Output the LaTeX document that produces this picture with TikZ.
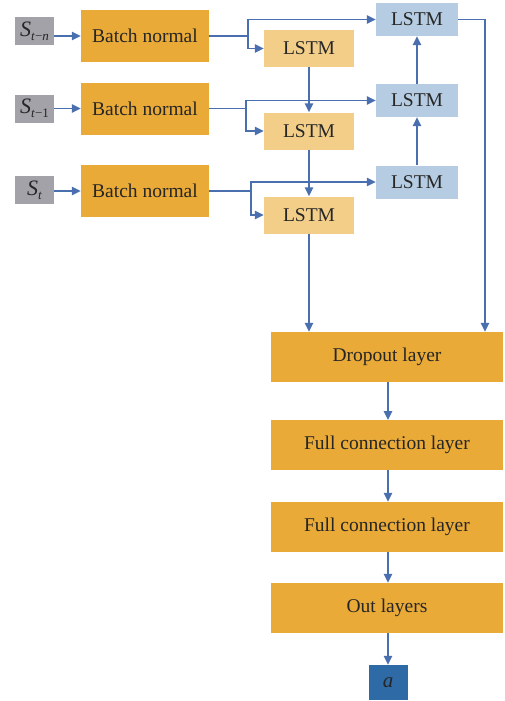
\documentclass[tikz,border=0pt]{standalone}
\usepackage{fontspec}
\setmainfont{Liberation Serif}
\usetikzlibrary{arrows.meta}
\definecolor{orng}{HTML}{E9AA38}
\definecolor{ylw}{HTML}{F3CE88}
\definecolor{lblue}{HTML}{B5CCE2}
\definecolor{gry}{HTML}{A2A2A8}
\definecolor{dblue}{HTML}{2E6AA6}
\definecolor{lnc}{HTML}{4A6FAE}
\tikzset{
  box/.style={rectangle, inner sep=0pt, font=\fontsize{19.5}{22}\selectfont, text=black!85},
  sbox/.style={box, fill=gry, minimum width=39pt, minimum height=28pt, font=\fontsize{22}{24}\selectfont},
  bnbox/.style={box, fill=orng, minimum width=128pt, minimum height=52pt},
  ybox/.style={box, fill=ylw, minimum width=90pt, minimum height=37pt},
  bbox/.style={box, fill=lblue, minimum width=82pt, minimum height=33pt},
  lbox/.style={box, fill=orng, minimum width=232pt, minimum height=50pt},
  abox/.style={box, fill=dblue, minimum width=39pt, minimum height=35pt, font=\fontsize{21}{24}\selectfont},
  ln/.style={draw=lnc, line width=1.5pt},
  arr/.style={ln, -{Triangle[length=9pt,width=8.5pt]}},
}
\newcommand{\sub}[1]{\raisebox{-0.4ex}{\fontsize{13}{13}\selectfont #1}}
\begin{document}
\begin{tikzpicture}[x=1pt,y=-1pt]
\useasboundingbox (0,0) rectangle (505,701);
% inputs
\node[sbox] (s1) at (34.5,31.5) {\textit{S}\sub{\textit{t}−\textit{n}}};
\node[sbox] (s2) at (34.5,108.5) {\textit{S}\sub{\textit{t}−1}};
\node[sbox] (s3) at (34.5,190) {\textit{S}\sub{\textit{t}}};
% batch normal
\node[bnbox] (b1) at (145,36) {Batch normal};
\node[bnbox] (b2) at (145,108.5) {Batch normal};
\node[bnbox] (b3) at (145,191) {Batch normal};
% yellow LSTM
\node[ybox] (y1) at (309,48.5) {LSTM};
\node[ybox] (y2) at (309,131) {LSTM};
\node[ybox] (y3) at (309,215) {LSTM};
% blue LSTM
\node[bbox] (u1) at (417,19.5) {LSTM};
\node[bbox] (u2) at (417,100.5) {LSTM};
\node[bbox] (u3) at (417,182) {LSTM};
% lower layers
\node[lbox] (d) at (387,357) {Dropout layer};
\node[lbox] (f1) at (387,445) {Full connection layer};
\node[lbox] (f2) at (387,527) {Full connection layer};
\node[lbox] (o) at (387,608) {Out layers};
\node[abox] (a) at (388,682.5) {\itshape a};
% branch coordinates
\coordinate (c1) at (248,36);
\coordinate (c2) at (246,108.5);
\coordinate (c3) at (251,191);
\coordinate (r1) at (485,19.5);
% input arrows
\draw[arr] (s1.east |- b1.west) -- (b1.west);
\draw[arr] (s2.east |- b2.west) -- (b2.west);
\draw[arr] (s3.east |- b3.west) -- (b3.west);
% branches
\draw[ln] (b1.east) -- (c1);
\draw[arr] (c1) |- (u1.west);
\draw[arr] (c1) |- (y1.west);
\draw[ln] (b2.east) -- (c2);
\draw[arr] (c2) |- (u2.west);
\draw[arr] (c2) |- (y2.west);
\draw[ln] (b3.east) -- (c3);
\draw[arr] (c3) |- (u3.west);
\draw[arr] (c3) |- (y3.west);
% forward chain
\draw[arr] (y1.south) -- (y2.north);
\draw[arr] (y2.south) -- (y3.north);
\draw[arr] (y3.south) -- (y3.south |- d.north);
% backward chain
\draw[arr] (u3.north) -- (u2.south);
\draw[arr] (u2.north) -- (u1.south);
\draw[arr] (u1.east) -- (r1) -- (r1 |- d.north);
% lower chain
\draw[arr] (388,382) -- (388,420);
\draw[arr] (f1.south -| a) -- (f2.north -| a);
\draw[arr] (f2.south -| a) -- (o.north -| a);
\draw[arr] (o.south -| a) -- (a.north);
\end{tikzpicture}
\end{document}
